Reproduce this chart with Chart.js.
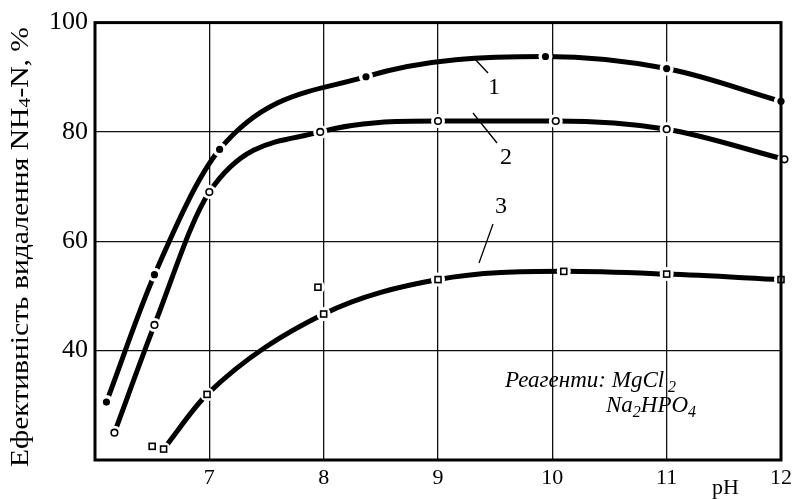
<!DOCTYPE html>
<html>
<head>
<meta charset="utf-8">
<script src="https://cdn.jsdelivr.net/npm/chart.js@4.4.1/dist/chart.umd.min.js"></script>
<style>
  html, body { margin: 0; padding: 0; background: #fff; }
  #wrap { width: 797px; height: 499px; }
</style>
</head>
<body>
<div id="wrap"><canvas id="myChart" width="797" height="499"></canvas></div>
<script>
// pH values and removal efficiency (%)
let xTicks = [6, 7, 8, 9, 10, 11, 12];
let yTicks = [20, 40, 60, 80, 100];

let curve1X = [6.1, 6.52, 7.09, 8.37, 9.94, 11.0, 12.0];
let curve1Y = [30.6, 53.9, 76.8, 90.1, 93.8, 91.6, 85.6];

let curve2X = [6.17, 6.52, 7.0, 7.97, 9.0, 10.03, 11.0, 12.03];
let curve2Y = [25.0, 44.7, 69.0, 80.0, 82.0, 82.0, 80.5, 75.0];

let curve3X = [6.6, 6.98, 8.0, 9.0, 10.1, 11.0, 12.0];
let curve3Y = [22.0, 32.0, 46.7, 53.0, 54.5, 54.0, 53.0];

// stray points of series 3 that sit off the curve
let extra3X = [6.5, 7.95];
let extra3Y = [22.5, 51.6];

let serif = "'Liberation Serif', 'Times New Roman', serif";

function pts(xs, ys) {
    return xs.map((x, i) => ({ x: x, y: ys[i] }));
}

// markers with a white gap around them, drawn on the library's point positions
let markerPlugin = {
    id: 'markers',
    afterDatasetsDraw(chart) {
        let c = chart.ctx;
        chart.data.datasets.forEach((ds, i) => {
            let meta = chart.getDatasetMeta(i);
            meta.data.forEach(p => {
                c.save();
                c.fillStyle = '#fff';
                c.beginPath();
                c.arc(p.x, p.y, 7, 0, Math.PI * 2);
                c.fill();
                c.lineWidth = 1.6;
                c.strokeStyle = '#000';
                if (ds.marker === 'dot') {
                    c.fillStyle = '#000';
                    c.beginPath();
                    c.arc(p.x, p.y, 3.6, 0, Math.PI * 2);
                    c.fill();
                } else if (ds.marker === 'circle') {
                    c.beginPath();
                    c.arc(p.x, p.y, 3.3, 0, Math.PI * 2);
                    c.fill();
                    c.stroke();
                } else {
                    c.fillRect(p.x - 3, p.y - 3, 6, 6);
                    c.strokeRect(p.x - 3, p.y - 3, 6, 6);
                }
                c.restore();
            });
        });
    }
};

// frame, axis titles, curve numbers and note
let decorPlugin = {
    id: 'decor',
    afterDraw(chart) {
        let c = chart.ctx;
        let a = chart.chartArea;
        c.save();
        c.strokeStyle = '#000';
        c.lineWidth = 3;
        c.strokeRect(a.left, a.top, a.right - a.left, a.bottom - a.top);

        // y axis title with subscript, stretched like the scanned original
        let big = '25px ' + serif;
        let small = '17px ' + serif;
        let parts = [['Ефективність видалення NH', big, 0], ['4', small, 5], ['-N, %', big, 0]];
        let total = 0;
        parts.forEach(p => { c.font = p[1]; total += c.measureText(p[0]).width; });
        c.translate(21, 247);
        c.rotate(-Math.PI / 2);
        c.scale(440 / total, 1);
        c.fillStyle = '#000';
        c.textBaseline = 'middle';
        let x = -total / 2;
        parts.forEach(p => {
            c.font = p[1];
            c.fillText(p[0], x, p[2]);
            x += c.measureText(p[0]).width;
        });
        c.restore();

        c.save();
        c.fillStyle = '#000';
        c.strokeStyle = '#000';
        c.lineWidth = 1.3;
        c.font = '22px ' + serif;
        c.textAlign = 'left';
        c.textBaseline = 'alphabetic';
        c.fillText('pH', 712, 494);

        // curve numbers and leader lines
        c.font = '24px ' + serif;
        c.textAlign = 'center';
        c.fillText('1', 494, 94);
        c.fillText('2', 506, 164);
        c.fillText('3', 501, 213);
        c.beginPath();
        c.moveTo(473, 57); c.lineTo(488, 73);
        c.moveTo(473, 113); c.lineTo(497, 143);
        c.moveTo(479, 263); c.lineTo(493, 224);
        c.stroke();

        // reagents note
        let it = 'italic 23px ' + serif;
        let itSub = 'italic 16px ' + serif;
        c.textAlign = 'left';
        c.font = it;
        let t1 = 'Реагенти: MgCl';
        c.fillText(t1, 505, 387);
        let w = c.measureText(t1).width;
        c.font = itSub;
        c.fillText('2', 505 + w + 4, 392);

        let x2 = 606;
        let seq = [['Na', it, 0], ['2', itSub, 5], ['HPO', it, 0], ['4', itSub, 5]];
        seq.forEach(s => {
            c.font = s[1];
            c.fillText(s[0], x2, 412 + s[2]);
            x2 += c.measureText(s[0]).width;
        });
        c.restore();
    }
};

let lineStyle = {
    borderColor: '#000',
    borderWidth: 5,
    pointRadius: 0,
    fill: false,
    cubicInterpolationMode: 'monotone',
    borderCapStyle: 'round'
};

let ctx = document.getElementById('myChart').getContext('2d');
let myChart = new Chart(ctx, {
    type: 'line',
    data: {
        datasets: [
            Object.assign({ label: '1', data: pts(curve1X, curve1Y), marker: 'dot' }, lineStyle),
            Object.assign({ label: '2', data: pts(curve2X, curve2Y), marker: 'circle' }, lineStyle),
            Object.assign({ label: '3', data: pts(curve3X, curve3Y), marker: 'square' }, lineStyle),
            { label: '3b', data: pts(extra3X, extra3Y), marker: 'square', showLine: false, pointRadius: 0 }
        ]
    },
    options: {
        responsive: false,
        animation: false,
        layout: { padding: { top: 18, right: 16, left: 0, bottom: 0 } },
        plugins: {
            legend: { display: false },
            tooltip: { enabled: false }
        },
        scales: {
            x: {
                type: 'linear',
                min: 6,
                max: 12,
                afterFit: s => { s.height = 39; },
                afterBuildTicks: s => { s.ticks = xTicks.map(v => ({ value: v })); },
                border: { display: false },
                grid: {
                    drawTicks: false,
                    lineWidth: 1.3,
                    color: g => (g.tick && g.tick.value > 6 && g.tick.value < 12) ? '#111' : 'rgba(0,0,0,0)'
                },
                ticks: {
                    padding: 5,
                    color: '#000',
                    font: { family: serif, size: 22 },
                    callback: v => v === 6 ? '' : v
                }
            },
            y: {
                min: 20,
                max: 100,
                afterFit: s => { s.width = 95; },
                afterBuildTicks: s => { s.ticks = yTicks.map(v => ({ value: v })); },
                border: { display: false },
                grid: {
                    drawTicks: false,
                    lineWidth: 1.3,
                    color: g => (g.tick && g.tick.value > 20 && g.tick.value < 100) ? '#111' : 'rgba(0,0,0,0)'
                },
                ticks: {
                    padding: 7,
                    color: '#000',
                    font: { family: serif, size: 26 },
                    callback: v => v === 20 ? '' : v
                }
            }
        }
    },
    plugins: [markerPlugin, decorPlugin]
});
</script>
</body>
</html>
